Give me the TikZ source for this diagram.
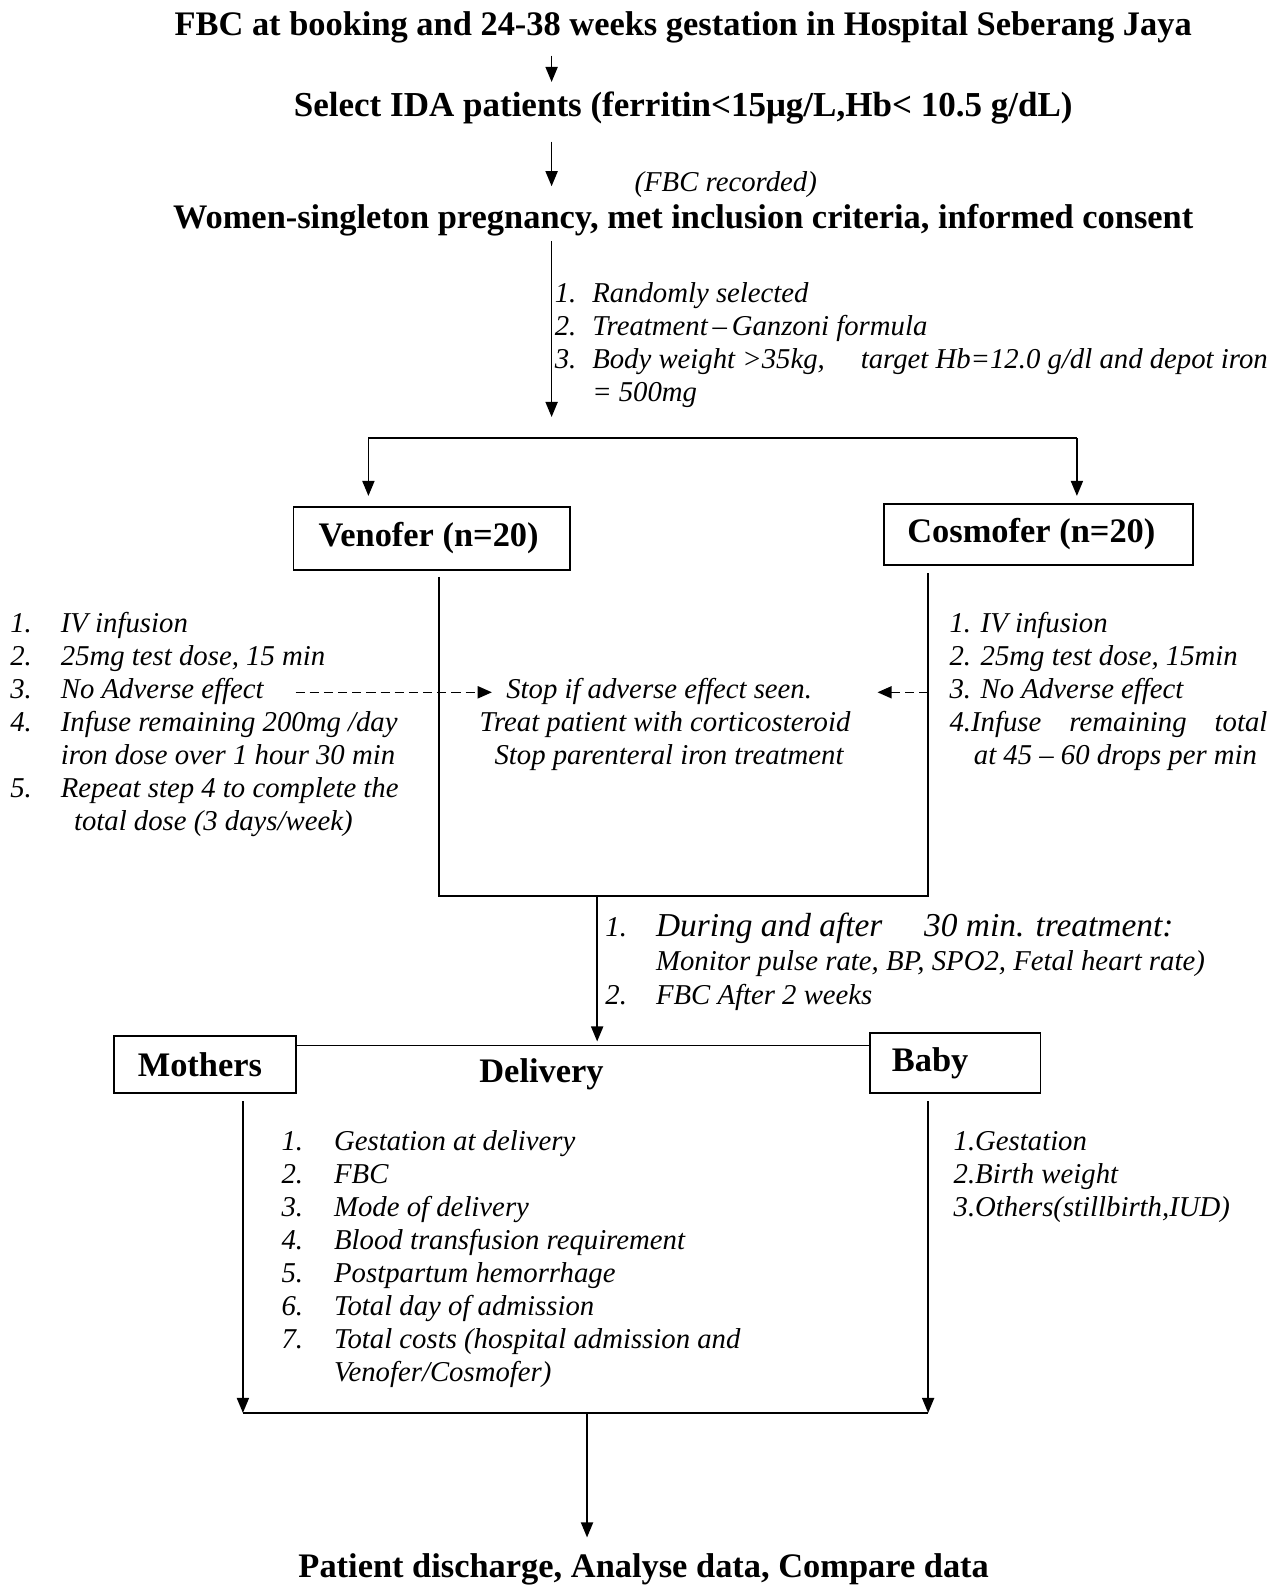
\documentclass[tikz,border=0pt]{standalone}
\usepackage{fontspec}
\setmainfont{Liberation Serif}
\usetikzlibrary{arrows.meta}
\begin{document}
\begin{tikzpicture}[x=1pt,y=-1pt,
  ttl/.style={font=\fontsize{34}{38}\selectfont\bfseries, inner sep=0pt, anchor=base},
  itx/.style={font=\fontsize{28.4}{32.6}\selectfont\itshape, inner sep=0pt, anchor=base west},
  box/.style={draw, line width=1.9pt, inner sep=0pt, font=\fontsize{34}{38}\selectfont\bfseries},
  ln/.style={line width=1.7pt},
  arr/.style={line width=1.7pt, -{Triangle[length=15pt,width=12pt]}},
  darr/.style={line width=1.5pt, dash pattern=on 9pt off 5pt, -{Triangle[length=14pt,width=12pt]}},
]
\useasboundingbox (0,0) rectangle (1262.7,1566);

% titles
\node[ttl] (t1) at (675,35) {FBC at booking and 24-38 weeks gestation in Hospital Seberang Jaya};
\node[ttl, font=\fontsize{34.6}{38}\selectfont\bfseries] (t2) at (675,115) {Select IDA patients (ferritin<15μg/L,Hb< 10.5 g/dL)};
\node[itx, anchor=base] (rec) at (717,189) {(FBC recorded)};
\node[ttl] (t3) at (675,226) {Women-singleton pregnancy, met inclusion criteria, informed consent};

\coordinate (a1s) at (545,55); \coordinate (a1e) at (545,81);
\coordinate (a2s) at (545,140); \coordinate (a2e) at (545,184);
\coordinate (a3s) at (545,238); \coordinate (a3e) at (545,412);
\draw[arr] (a1s) -- (a1e);
\draw[arr] (a2s) -- (a2e);
\draw[arr] (a3s) -- (a3e);

\node[itx, font=\fontsize{28.4}{32.4}\selectfont\itshape] (rand) at (548,299) {\begin{tabular}[t]{@{}p{37pt}@{}l@{}}
1. & Randomly selected\\
2. & Treatment\,--\,Ganzoni formula\\
3. & Body weight >35kg, \quad target Hb=12.0 g/dl and depot iron\\
 & = 500mg
\end{tabular}};

% split
\coordinate (sl) at (364,433); \coordinate (sr) at (1064,433);
\draw[ln] (sl) -- (sr);
\coordinate (slb) at (364,490); \coordinate (srb) at (1064,490);
\draw[arr] (sl) -- (slb);
\draw[arr] (sr) -- (srb);

\node[box, minimum width=273pt, minimum height=62pt] (ven) at (426.5,532) {Venofer (n=20)\hspace*{6pt}};
\node[box, minimum width=306pt, minimum height=60pt] (cos) at (1026,528) {Cosmofer (n=20)\hspace*{14pt}};

% treatment frame
\coordinate (vl) at (434,570); \coordinate (vb) at (434,885);
\coordinate (cl) at (917,566); \coordinate (cb) at (917,885);
\draw[ln] (vl) -- (vb) -- (cb) -- (cl);

\node[itx] (vlist) at (10,625) {\begin{tabular}[t]{@{}p{50pt}@{}l@{}}
1. & IV infusion\\
2. & 25mg test dose, 15 min\\
3. & No Adverse effect\\
4. & Infuse remaining 200mg /day\\
 & iron dose over 1 hour 30 min\\
5. & Repeat step 4 to complete the\\
 & \hspace{13pt}total dose (3 days/week)
\end{tabular}};

\node[itx, anchor=base west] (stop1) at (500,690.2) {Stop if adverse effect seen.};
\node[itx, anchor=base] (stop2) at (657,722.8) {Treat patient with corticosteroid};
\node[itx, anchor=base] (stop3) at (661,755.4) {Stop parenteral iron treatment};

\node[itx] (clist) at (938,625) {\begin{tabular}[t]{@{}l@{}}
1. IV infusion\\
2. 25mg test dose, 15min\\
3. No Adverse effect\\
\makebox[314pt][s]{4.Infuse remaining total}\\
\hspace{24pt}at 45 -- 60 drops per min
\end{tabular}};

\coordinate (dl1) at (292,684); \coordinate (dl2) at (486,684);
\coordinate (dr1) at (917,684); \coordinate (dr2) at (867,684);
\draw[darr] (dl1) -- (dl2);
\draw[darr] (dr1) -- (dr2);

% monitoring
\coordinate (ms) at (590,885); \coordinate (me) at (590,1029);
\draw[arr] (ms) -- (me);
\node[itx] (m1n) at (598,925) {1.};
\node[itx, font=\fontsize{33}{36}\selectfont\itshape] (m1) at (648,925) {During and after \quad 30 min. treatment:};
\node[itx] (m1b) at (648,958.5) {Monitor pulse rate, BP, SPO2, Fetal heart rate)};
\node[itx] (m2) at (598,992.5) {\makebox[50pt][l]{2.}FBC After 2 weeks};

% delivery
\node[box, minimum width=179pt, minimum height=56pt] (mot) at (202.5,1052) {Mothers\hspace*{10pt}};
\node[box, minimum width=168pt, minimum height=59pt] (bab) at (944,1050.5) {Baby\hspace*{50pt}};
\coordinate (dj1) at (292,1033); \coordinate (dj2) at (860,1033);
\draw[ln] (mot.east |- dj1) -- (bab.west |- dj2);
\node[ttl] (del) at (535,1070) {Delivery};

\coordinate (ml) at (240,1088); \coordinate (mlb) at (240,1396);
\coordinate (bl) at (917,1088); \coordinate (blb) at (917,1396);
\draw[arr] (ml) -- (mlb);
\draw[arr] (bl) -- (blb);
\draw[ln] (mlb) -- (blb);

\node[itx] (mlist) at (278,1136.5) {\begin{tabular}[t]{@{}p{52pt}@{}l@{}}
1. & Gestation at delivery\\
2. & FBC\\
3. & Mode of delivery\\
4. & Blood transfusion requirement\\
5. & Postpartum hemorrhage\\
6. & Total day of admission\\
7. & Total costs (hospital admission and\\
 & Venofer/Cosmofer)
\end{tabular}};

\node[itx] (blist) at (942,1136.5) {\begin{tabular}[t]{@{}l@{}}
1.Gestation\\
2.Birth weight\\
3.Others(stillbirth,IUD)
\end{tabular}};

\coordinate (fs) at (580,1396); \coordinate (fe) at (580,1519);
\draw[arr] (fs) -- (fe);
\node[ttl] (fin) at (636,1559) {Patient discharge, Analyse data, Compare data};
\end{tikzpicture}
\end{document}
